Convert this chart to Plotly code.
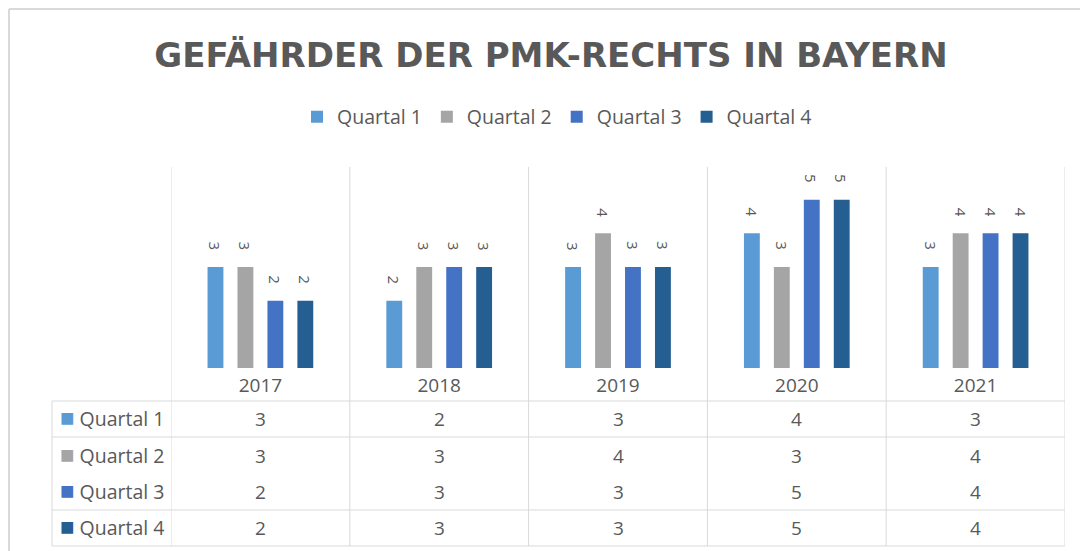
import plotly.graph_objects as go

years = ["2017", "2018", "2019", "2020", "2021"]
series_names = ["Quartal 1", "Quartal 2", "Quartal 3", "Quartal 4"]
q1 = [3, 2, 3, 4, 3]
q2 = [3, 3, 4, 3, 4]
q3 = [2, 3, 3, 5, 4]
q4 = [2, 3, 3, 5, 4]
series_values = [q1, q2, q3, q4]
colors = ["#5b9bd5", "#a5a5a5", "#4472c4", "#255e91"]
title_text = "GEFÄHRDER DER PMK-RECHTS IN BAYERN"

W, H = 1080, 551
TXT = "#595959"
GRID = "#d9d9d9"
FONT = "Open Sans"


def fx(px):
    return px / W


def fy(py):
    return 1 - py / H


fig = go.Figure()
for name, vals, col in zip(series_names, series_values, colors):
    fig.add_trace(go.Bar(name=name, x=years, y=vals, marker=dict(color=col, line=dict(width=0))))

cat_w = (1065 - 171) / len(years)
bargap = 0.33
slot = cat_w * (1 - bargap) / len(series_names)

annotations = []
# rotated data labels above the bars
for i, vals in enumerate(series_values):
    off = (i - (len(series_names) - 1) / 2) * slot
    for j, v in enumerate(vals):
        annotations.append(dict(x=j, y=v, xref="x", yref="y", text=str(v), showarrow=False,
                                textangle=90, xshift=off, yshift=21, yanchor="middle",
                                font=dict(family=FONT, size=15, color=TXT)))

# data table
row_centers = [419, 455.5, 492, 528]
for i, (name, vals, col) in enumerate(zip(series_names, series_values, colors)):
    annotations.append(dict(x=fx(58), y=fy(row_centers[i]), xref="paper", yref="paper",
                            xanchor="left", yanchor="middle", showarrow=False, yshift=2.5,
                            text=f'<span style="color:{col};font-size:24px">■</span> {name}',
                            font=dict(family=FONT, size=19.5, color=TXT)))
    for j, v in enumerate(vals):
        annotations.append(dict(x=j, y=fy(row_centers[i]), xref="x", yref="paper",
                                yanchor="middle", showarrow=False, text=str(v),
                                font=dict(family=FONT, size=19, color=TXT)))

shapes = []
# category boundaries (plot + table)
for j in range(len(years) + 1):
    shapes.append(dict(type="line", xref="x", yref="paper", x0=j - 0.5, x1=j - 0.5,
                       y0=fy(167), y1=fy(546), line=dict(color=GRID, width=1)))
# table left border
shapes.append(dict(type="line", xref="paper", yref="paper", x0=fx(52), x1=fx(52),
                   y0=fy(401), y1=fy(546), line=dict(color=GRID, width=1)))
for py in [401, 437, 510, 546]:
    shapes.append(dict(type="line", xref="paper", yref="paper", x0=fx(52), x1=fx(1065),
                       y0=fy(py), y1=fy(py), line=dict(color=GRID, width=1)))
# outer chart border (top and left visible)
shapes.append(dict(type="line", xref="paper", yref="paper", x0=fx(9), x1=1.02,
                   y0=fy(9), y1=fy(9), line=dict(color=GRID, width=2)))
shapes.append(dict(type="line", xref="paper", yref="paper", x0=fx(9), x1=fx(9),
                   y0=fy(9), y1=-0.02, line=dict(color=GRID, width=2)))

fig.update_layout(
    width=W, height=H, autosize=False,
    margin=dict(l=0, r=0, t=0, b=0, autoexpand=False),
    paper_bgcolor="white", plot_bgcolor="white",
    barmode="group", bargap=bargap, bargroupgap=0.47,
    title=dict(text=title_text, x=fx(551), xanchor="center", y=fy(55), yanchor="middle",
               font=dict(family="DejaVu Sans", size=34, color=TXT, weight="bold")),
    showlegend=True,
    legend=dict(orientation="h", x=fx(557), xanchor="center", y=fy(117), yanchor="middle",
                font=dict(family=FONT, size=19.5, color=TXT), bgcolor="rgba(0,0,0,0)"),
    xaxis=dict(domain=[fx(171), fx(1065)], type="category", range=[-0.5, len(years) - 0.5],
               showgrid=False, showline=False, automargin=False, ticklabelstandoff=4,
               zeroline=False, ticks="", tickfont=dict(family=FONT, size=19, color=TXT)),
    yaxis=dict(domain=[fy(368), fy(166)], range=[0, 6], visible=False, showgrid=False,
               automargin=False),
    annotations=annotations,
    shapes=shapes,
)

fig.write_html("out.html", post_script="document.body.style.margin='0';",
               config={"displayModeBar": False})
